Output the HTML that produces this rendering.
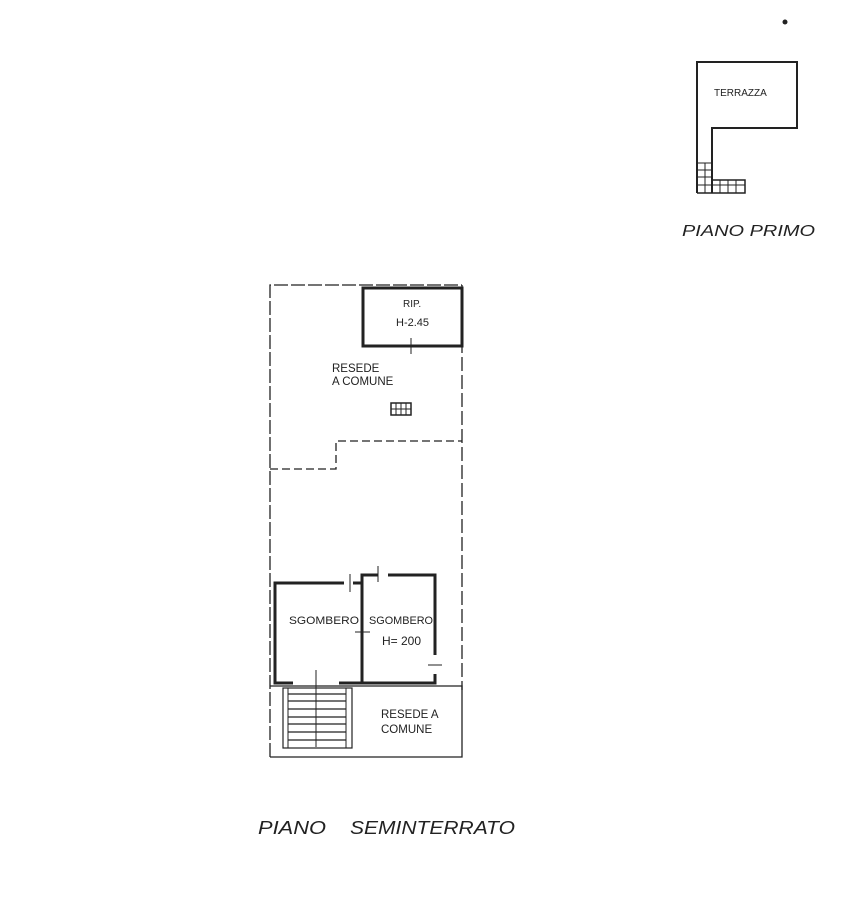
<!DOCTYPE html>
<html><head><meta charset="utf-8"><style>
html,body{margin:0;padding:0;background:#fff;}
svg{display:block;}
text{font-family:"Liberation Sans",sans-serif;fill:#222;}
</style></head><body>
<svg width="856" height="900" viewBox="0 0 856 900" xmlns="http://www.w3.org/2000/svg">
<g stroke="#222" fill="none">
<circle cx="785" cy="22" r="2.5" fill="#222" stroke="none"/>
<path d="M697 193 L697 62 L797 62 L797 128 L712 128 L712 193" stroke-width="2"/>
<path d="M697 193 L745 193 L745 180 L712 180" stroke-width="1.5"/>
<g stroke-width="1">
<line x1="697" y1="163" x2="712" y2="163"/><line x1="697" y1="170" x2="712" y2="170"/>
<line x1="697" y1="177" x2="712" y2="177"/><line x1="697" y1="185" x2="745" y2="185"/>
<line x1="705" y1="163" x2="705" y2="193"/>
<line x1="720" y1="180" x2="720" y2="193"/><line x1="728" y1="180" x2="728" y2="193"/><line x1="736" y1="180" x2="736" y2="193"/>
</g>
<path d="M270 757 L270 285 L462 285" stroke-width="1.3" stroke-dasharray="14 3"/>
<path d="M462 285 L462 690" stroke-width="1.3" stroke-dasharray="14 4"/>
<path d="M270 469 L336 469 L336 441 L462 441" stroke-width="1.3" stroke-dasharray="8 4"/>
<rect x="363" y="288" width="99" height="58" stroke-width="3"/>
<line x1="411" y1="338" x2="411" y2="354" stroke-width="1"/>
<path d="M344 583 L275 583 L275 683 L293 683" stroke-width="3"/>
<path d="M339 683 L362 683 L362 575 L378 575 M388 575 L435 575 L435 655 M435 674 L435 683 L380 683 L362 683" stroke-width="3"/>
<path d="M353 583 L362 583" stroke-width="3"/>
<line x1="350" y1="574" x2="350" y2="592" stroke-width="1"/>
<line x1="378" y1="566" x2="378" y2="582" stroke-width="1"/>
<line x1="355" y1="632" x2="370" y2="632" stroke-width="1"/>
<line x1="428" y1="665" x2="442" y2="665" stroke-width="1"/>
<path d="M270 686 L462 686 L462 757 L270 757" stroke-width="1.3"/>
<rect x="283" y="688" width="69" height="60" stroke-width="1.2"/>
<line x1="288" y1="688" x2="288" y2="748" stroke-width="1"/>
<line x1="346" y1="688" x2="346" y2="748" stroke-width="1"/>
<g stroke-width="1.2">
<line x1="288" y1="694" x2="346" y2="694"/><line x1="288" y1="701" x2="346" y2="701"/>
<line x1="288" y1="709" x2="346" y2="709"/><line x1="288" y1="717" x2="346" y2="717"/>
<line x1="288" y1="724" x2="346" y2="724"/><line x1="288" y1="732" x2="346" y2="732"/>
<line x1="288" y1="740" x2="346" y2="740"/>
</g>
<line x1="316" y1="670" x2="316" y2="747" stroke-width="1"/>
<rect x="391" y="403" width="20" height="12" stroke-width="1.5"/>
<line x1="391" y1="409" x2="411" y2="409" stroke-width="1"/>
<line x1="396" y1="403" x2="396" y2="415" stroke-width="1"/><line x1="401" y1="403" x2="401" y2="415" stroke-width="1"/><line x1="406" y1="403" x2="406" y2="415" stroke-width="1"/>
</g>
<text x="714" y="96" font-size="10">TERRAZZA</text>
<text x="682" y="236" font-size="16" font-style="italic" fill="#333" textLength="133" lengthAdjust="spacingAndGlyphs">PIANO PRIMO</text>
<text x="403" y="307" font-size="10">RIP.</text>
<text x="396" y="326" font-size="11">H-2.45</text>
<text x="332" y="372" font-size="11.5">RESEDE</text>
<text x="332" y="385" font-size="11.5">A COMUNE</text>
<text x="289" y="624" font-size="11" textLength="70" lengthAdjust="spacingAndGlyphs">SGOMBERO</text>
<text x="369" y="624" font-size="11" textLength="64" lengthAdjust="spacingAndGlyphs">SGOMBERO</text>
<text x="382" y="645" font-size="12">H= 200</text>
<text x="381" y="718" font-size="11.5">RESEDE A</text>
<text x="381" y="733" font-size="11.5">COMUNE</text>
<text x="258" y="834" font-size="18" font-style="italic" fill="#333" textLength="68" lengthAdjust="spacingAndGlyphs">PIANO</text>
<text x="350" y="834" font-size="18" font-style="italic" fill="#333" textLength="165" lengthAdjust="spacingAndGlyphs">SEMINTERRATO</text>
</svg>
</body></html>
